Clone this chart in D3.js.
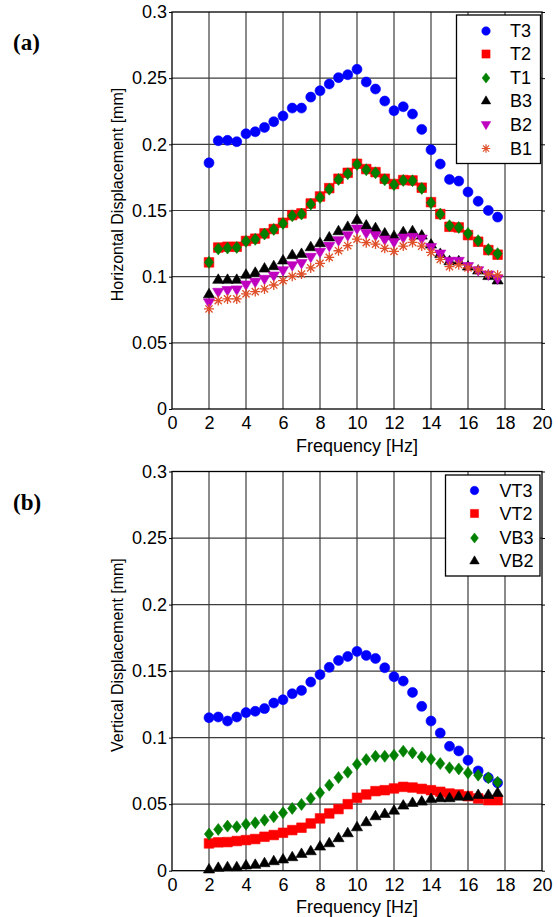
<!DOCTYPE html>
<html>
<head>
<meta charset="utf-8">
<script src="https://cdn.jsdelivr.net/npm/d3@7"></script>
<style>
body { margin: 0; background: #fff; }
text { font-family: "Liberation Sans", Arial, sans-serif; }
text.tag { font-family: "Liberation Serif", "Times New Roman", serif; font-weight: bold; }
</style>
</head>
<body>
<div id="chart"></div>
<script>
// frequencies shared by both panels
const freq = [2, 2.5, 3, 3.5, 4, 4.5, 5, 5.5, 6, 6.5, 7, 7.5, 8, 8.5, 9, 9.5,
  10, 10.5, 11, 11.5, 12, 12.5, 13, 13.5, 14, 14.5, 15, 15.5, 16, 16.55, 17.1, 17.6];

// (a) horizontal displacement [mm]
const T3 = [0.186, 0.2027, 0.203, 0.202, 0.208, 0.2095, 0.2128, 0.2171, 0.2214, 0.2274,
  0.2274, 0.2357, 0.2405, 0.2456, 0.2504, 0.2526, 0.2567, 0.2471, 0.2418, 0.2327,
  0.2254, 0.2284, 0.2229, 0.2113, 0.1959, 0.1851, 0.1735, 0.1722, 0.164, 0.157, 0.150, 0.145];
const T2 = [0.1108, 0.122, 0.1226, 0.1226, 0.127, 0.1287, 0.1327, 0.136, 0.1407, 0.1465,
  0.1478, 0.1553, 0.1606, 0.1669, 0.174, 0.1785, 0.1853, 0.1813, 0.179, 0.174,
  0.170, 0.173, 0.1727, 0.1672, 0.1563, 0.1473, 0.1377, 0.1372, 0.1314, 0.1264, 0.1201, 0.1166];
const T1 = [0.1108, 0.121, 0.1216, 0.1221, 0.1267, 0.1282, 0.1322, 0.1357, 0.1402, 0.146,
  0.1473, 0.1548, 0.1598, 0.1661, 0.1735, 0.1778, 0.1848, 0.1808, 0.1785, 0.1732,
  0.1695, 0.1727, 0.1725, 0.1667, 0.1558, 0.1473, 0.1385, 0.1372, 0.1327, 0.1272, 0.1206, 0.1174];
const B3 = [0.087, 0.098, 0.098, 0.098, 0.1018, 0.1033, 0.1065, 0.1083, 0.1126, 0.1166,
  0.1176, 0.1226, 0.1257, 0.130, 0.1347, 0.138, 0.1432, 0.139, 0.137, 0.133,
  0.131, 0.134, 0.1347, 0.1314, 0.1246, 0.1176, 0.112, 0.112, 0.108, 0.105, 0.1008, 0.0975];
const B2 = [0.0802, 0.0882, 0.0895, 0.090, 0.0937, 0.0957, 0.098, 0.1005, 0.1045, 0.1083,
  0.110, 0.1146, 0.1184, 0.1229, 0.1272, 0.131, 0.136, 0.1327, 0.131, 0.1277,
  0.1259, 0.1292, 0.1297, 0.1284, 0.1221, 0.1171, 0.1116, 0.1116, 0.1076, 0.1045, 0.1013, 0.0983];
const B1 = [0.0756, 0.0819, 0.0832, 0.0832, 0.087, 0.0887, 0.0907, 0.0937, 0.097, 0.1003,
  0.102, 0.1066, 0.110, 0.1146, 0.1196, 0.1234, 0.1284, 0.1257, 0.1246, 0.1214,
  0.1191, 0.1231, 0.1259, 0.1231, 0.1184, 0.1131, 0.1076, 0.109, 0.1066, 0.105, 0.102, 0.1013];

// (b) vertical displacement [mm]
const VT3 = [0.115, 0.1155, 0.1125, 0.1155, 0.1188, 0.1198, 0.1218, 0.126, 0.1285, 0.133,
  0.1355, 0.1418, 0.1473, 0.1528, 0.158, 0.161, 0.1648, 0.1618, 0.1595, 0.1525,
  0.1458, 0.1425, 0.134, 0.1235, 0.1125, 0.1035, 0.0935, 0.09, 0.083, 0.075, 0.0698, 0.066];
const VT2 = [0.0205, 0.0213, 0.0215, 0.0223, 0.023, 0.0238, 0.0255, 0.0268, 0.0285, 0.0305,
  0.0323, 0.0355, 0.0393, 0.043, 0.0463, 0.05, 0.0548, 0.0573, 0.0598, 0.0605,
  0.0618, 0.063, 0.0625, 0.0615, 0.0605, 0.0593, 0.058, 0.0573, 0.056, 0.0543, 0.053, 0.053];
const VB3 = [0.0275, 0.031, 0.0335, 0.033, 0.035, 0.036, 0.038, 0.0405, 0.0435, 0.0468,
  0.0498, 0.0543, 0.0585, 0.0643, 0.07, 0.074, 0.08, 0.0835, 0.086, 0.086,
  0.0868, 0.0898, 0.0885, 0.0855, 0.0838, 0.0805, 0.0773, 0.0765, 0.0735, 0.0718, 0.0698, 0.0665];
const VB2 = [0.0013, 0.0025, 0.003, 0.003, 0.0043, 0.0048, 0.006, 0.0075, 0.0088, 0.0105,
  0.013, 0.015, 0.0185, 0.021, 0.0248, 0.0285, 0.033, 0.0368, 0.0413, 0.043,
  0.0455, 0.0493, 0.0513, 0.0523, 0.0543, 0.0548, 0.0548, 0.056, 0.056, 0.0573, 0.0573, 0.0588];

const xTicks = [0, 2, 4, 6, 8, 10, 12, 14, 16, 18, 20];
const yTicks = [0, 0.05, 0.1, 0.15, 0.2, 0.25, 0.3];

const width = 558, height = 917;
const left = 172, right = 542;

const svg = d3.select("#chart")
  .append("svg")
  .attr("width", width)
  .attr("height", height);

// marker shapes (MATLAB style)
function marker(kind, s) {
  const p = d3.path();
  if (kind === "o") { p.arc(0, 0, 5 * s, 0, 2 * Math.PI); }
  else if (kind === "s") { p.rect(-4.8 * s, -4.8 * s, 9.6 * s, 9.6 * s); }
  else if (kind === "d") { p.moveTo(0, -6 * s); p.lineTo(4.6 * s, 0); p.lineTo(0, 6 * s); p.lineTo(-4.6 * s, 0); p.closePath(); }
  else if (kind === "^") { p.moveTo(0, -5.5 * s); p.lineTo(5.6 * s, 4 * s); p.lineTo(-5.6 * s, 4 * s); p.closePath(); }
  else if (kind === "v") { p.moveTo(0, 5.5 * s); p.lineTo(5.6 * s, -4 * s); p.lineTo(-5.6 * s, -4 * s); p.closePath(); }
  else if (kind === "*") {
    const r = 5 * s, q = 3.6 * s;
    p.moveTo(-r, 0); p.lineTo(r, 0); p.moveTo(0, -r); p.lineTo(0, r);
    p.moveTo(-q, -q); p.lineTo(q, q); p.moveTo(-q, q); p.lineTo(q, -q);
  }
  return p.toString();
}

const panels = [
  {
    tag: "(a)", top: 12, bottom: 409, ytitle: "Horizontal Displacement [mm]",
    legend: { x: 456.5, y: 15, w: 84, h: 148.5, mx: 486, tx: 510, rows: [31, 54, 78, 100.5, 125, 148.5] },
    series: [
      { name: "T3", values: T3, kind: "o", color: "#0000ff" },
      { name: "T2", values: T2, kind: "s", color: "#ff0000" },
      { name: "T1", values: T1, kind: "d", color: "#008000" },
      { name: "B3", values: B3, kind: "^", color: "#000000" },
      { name: "B2", values: B2, kind: "v", color: "#bf00bf" },
      { name: "B1", values: B1, kind: "*", color: "#e0502a" }
    ]
  },
  {
    tag: "(b)", top: 471.5, bottom: 870.7, ytitle: "Vertical Displacement [mm]",
    legend: { x: 445.5, y: 475, w: 94.5, h: 101, mx: 474.5, tx: 499.5, rows: [490.5, 513.5, 538, 560.5] },
    series: [
      { name: "VT3", values: VT3, kind: "o", color: "#0000ff" },
      { name: "VT2", values: VT2, kind: "s", color: "#ff0000" },
      { name: "VB3", values: VB3, kind: "d", color: "#008000" },
      { name: "VB2", values: VB2, kind: "^", color: "#000000" }
    ]
  }
];

panels.forEach(pn => {
  const x = d3.scaleLinear().domain([0, 20]).range([left, right]);
  const y = d3.scaleLinear().domain([0, 0.3]).range([pn.bottom, pn.top]);
  const g = svg.append("g");

  // grid
  g.selectAll(".gx").data(xTicks.slice(1, -1)).enter().append("line")
    .attr("x1", d => x(d)).attr("x2", d => x(d))
    .attr("y1", pn.top).attr("y2", pn.bottom)
    .attr("stroke", "#3c3c3c").attr("stroke-width", 1.2);
  g.selectAll(".gy").data(yTicks.slice(1, -1)).enter().append("line")
    .attr("x1", left).attr("x2", right)
    .attr("y1", d => y(d)).attr("y2", d => y(d))
    .attr("stroke", "#3c3c3c").attr("stroke-width", 1.2);

  // axes
  const fmt = d => String(+d.toFixed(2));
  g.append("g").attr("transform", `translate(${left},0)`)
    .call(d3.axisLeft(y).tickValues(yTicks).tickFormat(fmt).tickSize(3).tickSizeOuter(0).tickPadding(2));
  g.append("g").attr("transform", `translate(${right},0)`)
    .call(d3.axisRight(y).tickValues(yTicks).tickFormat("").tickSize(3).tickSizeOuter(0));
  g.append("g").attr("transform", `translate(0,${pn.bottom})`)
    .call(d3.axisBottom(x).tickValues(xTicks).tickFormat(d3.format("d")).tickSize(0).tickPadding(7.5));
  g.selectAll(".tick text").attr("font-size", 18).attr("fill", "#000");
  g.selectAll(".domain").remove();

  g.append("rect")
    .attr("x", left).attr("y", pn.top)
    .attr("width", right - left).attr("height", pn.bottom - pn.top)
    .attr("fill", "none").attr("stroke", "#000").attr("stroke-width", 1.3);

  // titles
  g.append("text")
    .attr("x", (left + right) / 2).attr("y", pn.bottom + 42.5)
    .attr("text-anchor", "middle").attr("font-size", 18)
    .text("Frequency [Hz]");
  const cy = (pn.top + pn.bottom) / 2 - 16;
  g.append("text")
    .attr("transform", `translate(123,${cy}) rotate(-90)`)
    .attr("text-anchor", "middle").attr("font-size", 16)
    .text(pn.ytitle);
  g.append("text")
    .attr("class", "tag")
    .attr("x", 13).attr("y", pn.top + 38)
    .attr("font-size", 23)
    .text(pn.tag);

  // data markers
  pn.series.forEach(s => {
    g.append("g").selectAll("path")
      .data(freq.map((f, i) => [f, s.values[i]]))
      .enter().append("path")
      .attr("transform", d => `translate(${x(d[0])},${y(d[1])})`)
      .attr("d", marker(s.kind, 1))
      .attr("fill", s.kind === "*" ? "none" : s.color)
      .attr("stroke", s.color)
      .attr("stroke-width", s.kind === "*" ? 1.3 : 0.6);
  });

  // legend
  const L = pn.legend;
  const lg = g.append("g");
  lg.append("rect")
    .attr("x", L.x).attr("y", L.y).attr("width", L.w).attr("height", L.h)
    .attr("fill", "#fff").attr("stroke", "#000").attr("stroke-width", 1.3);
  pn.series.forEach((s, i) => {
    lg.append("path")
      .attr("transform", `translate(${L.mx},${L.rows[i]})`)
      .attr("d", marker(s.kind, 0.85))
      .attr("fill", s.kind === "*" ? "none" : s.color)
      .attr("stroke", s.color)
      .attr("stroke-width", s.kind === "*" ? 1.2 : 0.5);
    lg.append("text")
      .attr("x", L.tx).attr("y", L.rows[i] + 6.3)
      .attr("font-size", 18)
      .text(s.name);
  });
});
</script>
</body>
</html>
